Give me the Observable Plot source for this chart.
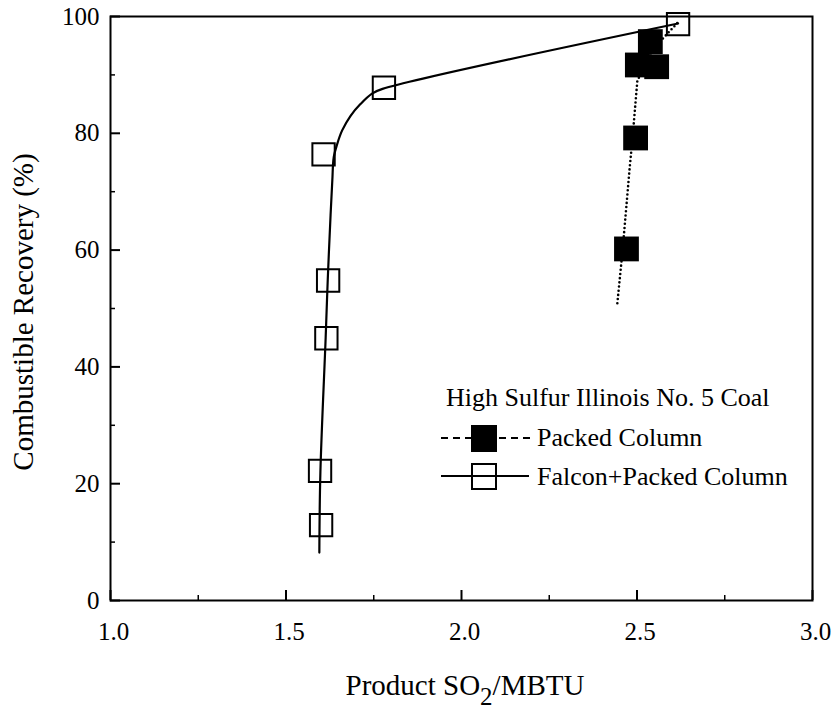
<!DOCTYPE html>
<html>
<head>
<meta charset="utf-8">
<script src="https://cdn.jsdelivr.net/npm/d3@7"></script>
<script src="https://cdn.jsdelivr.net/npm/@observablehq/plot@0.6"></script>
<style>
  html, body { margin: 0; padding: 0; background: #fff; }
  #chart { position: relative; width: 834px; height: 709px; }
  #chart svg, #chart svg text { font-family: "Liberation Serif", "Times New Roman", Times, serif !important; }
</style>
</head>
<body>
<div id="chart"></div>
<script>
// ---- Data ----
// Falcon + Packed Column (open squares)
const falconX = [1.600, 1.597, 1.615, 1.620, 1.607, 1.779, 2.617];
const falconY = [12.9, 22.2, 44.9, 54.8, 76.4, 87.8, 98.7];
// Packed Column (filled squares)
const packedX = [2.470, 2.496, 2.501, 2.556, 2.538];
const packedY = [60.2, 79.2, 91.7, 91.4, 95.7];
// Fitted curves drawn through each series
const falconFitX = [1.595, 1.598, 1.613, 1.619, 1.627, 1.632, 1.636, 1.646, 1.660, 1.684, 1.712, 1.745, 1.775, 2.617];
const falconFitY = [8.2, 22.0, 45.0, 55.0, 66.0, 72.0, 75.9, 78.2, 80.5, 83.0, 85.0, 86.8, 87.6, 98.8];
const packedFitX = [2.444, 2.459, 2.479, 2.487, 2.501, 2.530, 2.570, 2.620];
const packedFitY = [50.9, 60.0, 74.0, 79.0, 89.0, 92.5, 96.0, 99.2];
// Axes
const xMajor = [1.0, 1.5, 2.0, 2.5, 3.0];
const xMinor = [1.25, 1.75, 2.25, 2.75];
const yMajor = [0, 20, 40, 60, 80, 100];
const yMinor = [10, 30, 50, 70, 90];
const xTitle = ["Product SO", "2", "/MBTU"];
const yTitle = "Combustible Recovery (%)";
const legendTitle = "High Sulfur Illinois No. 5 Coal";
const seriesNames = ["Packed Column", "Falcon+Packed Column"];

const toPts = (xs, ys) => xs.map((x, i) => ({x, y: ys[i]}));
const falcon = toPts(falconX, falconY);
const packed = toPts(packedX, packedY);
const falconFit = toPts(falconFitX, falconFitY);
const packedFit = toPts(packedFitX, packedFitY);

const FONT = "Liberation Serif, Times New Roman, Times, serif";

const plot = Plot.plot({
  width: 834,
  height: 709,
  marginLeft: 110,
  marginRight: 22,
  marginTop: 16,
  marginBottom: 109,
  style: {background: "#fff", overflow: "visible"},
  x: {domain: [1, 3]},
  y: {domain: [0, 100]},
  marks: [
    // inward ticks
    Plot.axisY(yMajor, {tickSize: 10, dx: 10, tickFormat: () => "", label: null, strokeWidth: 2}),
    Plot.axisY(yMinor, {tickSize: 5, dx: 5, tickFormat: () => "", label: null, strokeWidth: 1.5}),
    Plot.axisX(xMajor, {tickSize: 10, dy: -10, tickFormat: () => "", label: null, strokeWidth: 2}),
    Plot.axisX(xMinor, {tickSize: 5, dy: -5, tickFormat: () => "", label: null, strokeWidth: 1.5}),
    // tick labels
    Plot.axisY(yMajor, {tickSize: 0, tickPadding: 11, fontSize: 25, label: null, tickFormat: d3.format("d"), fill: "#000"}),
    Plot.axisX(xMajor, {tickSize: 0, tickPadding: 22, dx: 3, fontSize: 25, label: null, tickFormat: d3.format(".1f"), fill: "#000"}),
    Plot.frame({stroke: "#000", strokeWidth: 2}),
    // fitted curves
    Plot.line(packedFit, {x: "x", y: "y", stroke: "#000", strokeWidth: 2.6, strokeDasharray: "0 4.2", strokeLinecap: "round"}),
    Plot.line(falconFit, {x: "x", y: "y", stroke: "#000", strokeWidth: 2.2, curve: "catmull-rom"}),
    // markers
    Plot.dot(packed, {x: "x", y: "y", symbol: "square", r: 14, fill: "#000", stroke: "none"}),
    Plot.dot(falcon, {x: "x", y: "y", symbol: "square", r: 12.6, fill: "none", stroke: "#000", strokeWidth: 2})
  ]
});

document.getElementById("chart").appendChild(plot);

// ---- Titles and legend (annotations in pixel space) ----
const svg = d3.select(plot).attr("font-family", FONT);
const ann = svg.append("g").attr("font-family", FONT).attr("fill", "#000").attr("text-anchor", "start");

// x title with subscript
const xt = ann.append("text").attr("x", 465).attr("y", 695).attr("text-anchor", "middle").attr("font-size", 29);
xt.append("tspan").text(xTitle[0]);
xt.append("tspan").attr("dy", 10).attr("font-size", 25).text(xTitle[1]);
xt.append("tspan").attr("dy", -10).text(xTitle[2]);

// y title
ann.append("text")
  .attr("transform", "translate(33,312) rotate(-90)")
  .attr("text-anchor", "middle")
  .attr("font-size", 29)
  .text(yTitle);

// legend
const lg = ann.append("g").attr("text-anchor", "start");
lg.append("text").attr("x", 446).attr("y", 406).attr("font-size", 26).text(legendTitle);
// Packed Column row
lg.append("line").attr("x1", 441).attr("x2", 471).attr("y1", 438).attr("y2", 438)
  .attr("stroke", "#000").attr("stroke-width", 2).attr("stroke-dasharray", "7 5");
lg.append("line").attr("x1", 499).attr("x2", 534).attr("y1", 438).attr("y2", 438)
  .attr("stroke", "#000").attr("stroke-width", 2).attr("stroke-dasharray", "7 5");
lg.append("rect").attr("x", 471).attr("y", 425).attr("width", 26).attr("height", 27).attr("fill", "#000");
lg.append("text").attr("x", 537).attr("y", 446).attr("font-size", 26).text(seriesNames[0]);
// Falcon row
lg.append("line").attr("x1", 441).attr("x2", 529).attr("y1", 476).attr("y2", 476)
  .attr("stroke", "#000").attr("stroke-width", 2);
lg.append("rect").attr("x", 472).attr("y", 464).attr("width", 24).attr("height", 25)
  .attr("fill", "none").attr("stroke", "#000").attr("stroke-width", 2);
lg.append("text").attr("x", 537).attr("y", 485).attr("font-size", 26).text(seriesNames[1]);
</script>
</body>
</html>
